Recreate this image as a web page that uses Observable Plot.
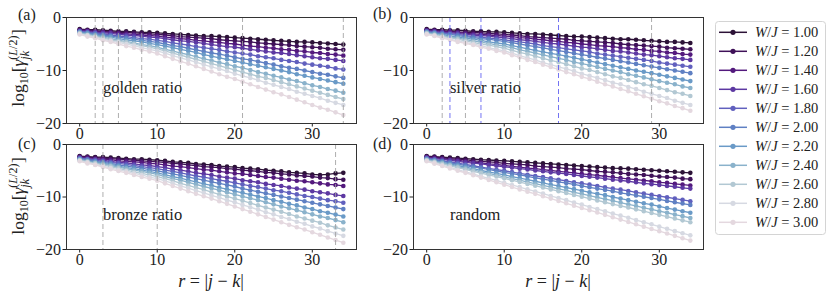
<!DOCTYPE html>
<html><head><meta charset="utf-8">
<script src="https://cdn.jsdelivr.net/npm/d3@7"></script>
<script src="https://cdn.jsdelivr.net/npm/@observablehq/plot@0.6"></script>
<style>
body{margin:0;background:#fff;}
#chart{position:relative;width:830px;height:295px;font-family:"Liberation Serif",serif;overflow:hidden;}
#chart svg{position:absolute;}
</style></head><body><div id="chart"></div>
<script>
const r = [0,1,2,3,4,5,6,7,8,9,10,11,12,13,14,15,16,17,18,19,20,21,22,23,24,25,26,27,28,29,30,31,32,33,34];
const W = [1.0,1.2,1.4,1.6,1.8,2.0,2.2,2.4,2.6,2.8,3.0];
const wLabels = ["1.00","1.20","1.40","1.60","1.80","2.00","2.20","2.40","2.60","2.80","3.00"];

const golden = [
 [-2.2,-2.3,-2.3,-2.4,-2.5,-2.6,-2.6,-2.7,-2.8,-2.8,-2.9,-3.0,-3.1,-3.2,-3.3,-3.4,-3.5,-3.5,-3.6,-3.7,-3.8,-3.9,-4.0,-4.1,-4.2,-4.3,-4.4,-4.5,-4.6,-4.6,-4.7,-4.8,-4.9,-5.0,-5.1],
 [-2.3,-2.4,-2.5,-2.6,-2.7,-2.8,-2.8,-2.9,-3.0,-3.1,-3.2,-3.3,-3.4,-3.6,-3.7,-3.8,-3.9,-4.0,-4.2,-4.3,-4.4,-4.5,-4.6,-4.8,-4.9,-5.0,-5.1,-5.2,-5.4,-5.5,-5.6,-5.7,-5.9,-6.0,-6.1],
 [-2.4,-2.5,-2.6,-2.7,-2.8,-3.0,-3.1,-3.2,-3.3,-3.4,-3.5,-3.7,-3.8,-4.0,-4.1,-4.3,-4.4,-4.6,-4.7,-4.9,-5.0,-5.2,-5.4,-5.5,-5.7,-5.8,-6.0,-6.1,-6.3,-6.4,-6.6,-6.7,-6.9,-7.0,-7.2],
 [-2.5,-2.6,-2.8,-2.9,-3.0,-3.2,-3.3,-3.4,-3.5,-3.7,-3.8,-4.0,-4.2,-4.4,-4.5,-4.7,-4.9,-5.1,-5.3,-5.5,-5.6,-5.8,-6.0,-6.2,-6.4,-6.6,-6.7,-6.9,-7.1,-7.3,-7.5,-7.7,-7.8,-8.0,-8.2],
 [-2.6,-2.8,-2.9,-3.1,-3.3,-3.5,-3.6,-3.8,-4.0,-4.1,-4.3,-4.5,-4.8,-5.0,-5.2,-5.5,-5.7,-5.9,-6.1,-6.4,-6.6,-6.8,-7.0,-7.3,-7.5,-7.7,-8.0,-8.2,-8.4,-8.7,-8.9,-9.1,-9.3,-9.6,-9.8],
 [-2.7,-2.9,-3.1,-3.3,-3.5,-3.7,-3.9,-4.1,-4.3,-4.5,-4.7,-5.0,-5.3,-5.5,-5.8,-6.1,-6.4,-6.7,-6.9,-7.2,-7.5,-7.8,-8.0,-8.3,-8.6,-8.9,-9.2,-9.5,-9.7,-10.0,-10.3,-10.6,-10.8,-11.1,-11.4],
 [-2.8,-3.0,-3.3,-3.5,-3.7,-4.0,-4.2,-4.4,-4.6,-4.9,-5.1,-5.4,-5.7,-6.0,-6.3,-6.6,-7.0,-7.3,-7.6,-7.9,-8.2,-8.5,-8.8,-9.1,-9.4,-9.7,-10.0,-10.3,-10.7,-11.0,-11.3,-11.6,-11.9,-12.2,-12.5],
 [-2.9,-3.2,-3.4,-3.7,-4.0,-4.3,-4.5,-4.8,-5.1,-5.3,-5.6,-6.0,-6.3,-6.7,-7.0,-7.4,-7.8,-8.1,-8.5,-8.8,-9.2,-9.5,-9.9,-10.3,-10.6,-11.0,-11.3,-11.7,-12.0,-12.4,-12.8,-13.1,-13.5,-13.8,-14.2],
 [-3.0,-3.3,-3.6,-3.9,-4.2,-4.5,-4.7,-5.0,-5.3,-5.6,-5.9,-6.3,-6.7,-7.1,-7.5,-7.9,-8.3,-8.7,-9.1,-9.5,-9.9,-10.3,-10.7,-11.1,-11.4,-11.8,-12.2,-12.6,-13.0,-13.4,-13.8,-14.2,-14.6,-15.0,-15.4],
 [-3.1,-3.4,-3.7,-4.1,-4.4,-4.7,-5.0,-5.3,-5.7,-6.0,-6.3,-6.7,-7.2,-7.6,-8.0,-8.4,-8.9,-9.3,-9.7,-10.1,-10.6,-11.0,-11.4,-11.8,-12.3,-12.7,-13.1,-13.5,-14.0,-14.4,-14.8,-15.2,-15.7,-16.1,-16.5],
 [-3.2,-3.6,-3.9,-4.3,-4.6,-5.0,-5.4,-5.7,-6.1,-6.4,-6.8,-7.3,-7.8,-8.3,-8.7,-9.2,-9.7,-10.2,-10.7,-11.2,-11.6,-12.1,-12.6,-13.1,-13.6,-14.1,-14.5,-15.0,-15.5,-16.0,-16.5,-17.0,-17.4,-17.9,-18.4]
];

const silver = [
 [-2.2,-2.3,-2.3,-2.4,-2.4,-2.5,-2.6,-2.6,-2.7,-2.7,-2.8,-2.9,-3.0,-3.1,-3.1,-3.2,-3.3,-3.4,-3.5,-3.6,-3.6,-3.7,-3.8,-3.9,-4.0,-4.1,-4.1,-4.2,-4.3,-4.4,-4.5,-4.6,-4.6,-4.7,-4.8],
 [-2.3,-2.4,-2.5,-2.6,-2.7,-2.8,-2.8,-2.9,-3.0,-3.1,-3.2,-3.3,-3.4,-3.6,-3.7,-3.8,-3.9,-4.0,-4.1,-4.3,-4.4,-4.5,-4.6,-4.7,-4.8,-5.0,-5.1,-5.2,-5.3,-5.4,-5.5,-5.7,-5.8,-5.9,-6.0],
 [-2.4,-2.5,-2.6,-2.7,-2.8,-3.0,-3.1,-3.2,-3.3,-3.4,-3.5,-3.6,-3.8,-3.9,-4.1,-4.2,-4.4,-4.5,-4.7,-4.8,-5.0,-5.1,-5.3,-5.4,-5.5,-5.7,-5.8,-6.0,-6.1,-6.3,-6.4,-6.6,-6.7,-6.9,-7.0],
 [-2.5,-2.6,-2.8,-2.9,-3.0,-3.2,-3.3,-3.4,-3.5,-3.7,-3.8,-4.0,-4.2,-4.3,-4.5,-4.7,-4.9,-5.0,-5.2,-5.4,-5.6,-5.7,-5.9,-6.1,-6.3,-6.4,-6.6,-6.8,-7.0,-7.1,-7.3,-7.5,-7.7,-7.8,-8.0],
 [-2.6,-2.8,-2.9,-3.1,-3.2,-3.4,-3.6,-3.7,-3.9,-4.0,-4.2,-4.4,-4.6,-4.8,-5.0,-5.3,-5.5,-5.7,-5.9,-6.1,-6.3,-6.5,-6.8,-7.0,-7.2,-7.4,-7.6,-7.8,-8.0,-8.2,-8.5,-8.7,-8.9,-9.1,-9.3],
 [-2.7,-2.9,-3.1,-3.2,-3.4,-3.6,-3.8,-4.0,-4.1,-4.3,-4.5,-4.75,-5.0,-5.25,-5.5,-5.75,-6.0,-6.25,-6.5,-6.75,-7.0,-7.25,-7.5,-7.75,-8.0,-8.25,-8.5,-8.75,-9.0,-9.25,-9.5,-9.75,-10.0,-10.25,-10.5],
 [-2.8,-3.0,-3.2,-3.5,-3.7,-3.9,-4.1,-4.3,-4.6,-4.8,-5.0,-5.3,-5.6,-5.9,-6.2,-6.5,-6.75,-7.0,-7.3,-7.6,-7.9,-8.2,-8.5,-8.8,-9.1,-9.4,-9.7,-10.0,-10.25,-10.5,-10.8,-11.1,-11.4,-11.7,-12.0],
 [-2.9,-3.15,-3.4,-3.65,-3.9,-4.15,-4.4,-4.65,-4.9,-5.15,-5.4,-5.7,-6.1,-6.4,-6.7,-7.05,-7.4,-7.7,-8.0,-8.4,-8.7,-9.0,-9.35,-9.7,-10.0,-10.3,-10.7,-11.0,-11.3,-11.65,-12.0,-12.3,-12.6,-13.0,-13.3],
 [-3.0,-3.3,-3.6,-3.8,-4.1,-4.4,-4.7,-5.0,-5.2,-5.5,-5.8,-6.2,-6.6,-6.9,-7.3,-7.7,-8.1,-8.4,-8.8,-9.2,-9.6,-9.9,-10.3,-10.7,-11.1,-11.4,-11.8,-12.2,-12.6,-12.9,-13.3,-13.7,-14.1,-14.4,-14.8],
 [-3.1,-3.4,-3.7,-4.1,-4.4,-4.7,-5.0,-5.3,-5.7,-6.0,-6.3,-6.7,-7.2,-7.6,-8.0,-8.5,-8.9,-9.3,-9.7,-10.1,-10.6,-11.0,-11.4,-11.8,-12.3,-12.6,-13.1,-13.5,-14.0,-14.4,-14.8,-15.2,-15.7,-16.1,-16.5],
 [-3.2,-3.5,-3.9,-4.2,-4.6,-4.9,-5.2,-5.6,-5.9,-6.3,-6.6,-7.1,-7.5,-8.0,-8.4,-8.9,-9.35,-9.8,-10.3,-10.7,-11.2,-11.6,-12.1,-12.6,-13.0,-13.5,-13.9,-14.4,-14.85,-15.3,-15.8,-16.2,-16.7,-17.1,-17.6]
];

const bronze = [
 [-2.2,-2.3,-2.4,-2.4,-2.5,-2.6,-2.7,-2.8,-2.8,-2.9,-3.0,-3.1,-3.3,-3.4,-3.5,-3.7,-3.8,-3.9,-4.1,-4.2,-4.3,-4.5,-4.6,-4.7,-4.9,-5.0,-5.1,-5.3,-5.4,-5.5,-5.7,-5.8,-5.7,-5.5,-5.4],
 [-2.3,-2.4,-2.5,-2.6,-2.7,-2.8,-2.9,-3.0,-3.1,-3.2,-3.3,-3.4,-3.6,-3.7,-3.9,-4.0,-4.2,-4.3,-4.4,-4.6,-4.7,-4.9,-5.0,-5.1,-5.3,-5.4,-5.6,-5.7,-5.9,-6.0,-6.1,-6.3,-6.4,-6.6,-6.7],
 [-2.4,-2.5,-2.7,-2.8,-2.9,-3.1,-3.2,-3.3,-3.4,-3.6,-3.7,-3.9,-4.1,-4.2,-4.4,-4.6,-4.8,-4.9,-5.1,-5.3,-5.5,-5.6,-5.8,-6.0,-6.2,-6.3,-6.5,-6.7,-6.9,-7.0,-7.2,-7.4,-7.6,-7.7,-7.9],
 [-2.5,-2.7,-2.8,-3.0,-3.2,-3.4,-3.5,-3.7,-3.9,-4.0,-4.2,-4.4,-4.7,-4.9,-5.1,-5.4,-5.6,-5.8,-6.1,-6.3,-6.5,-6.8,-7.0,-7.2,-7.5,-7.7,-7.9,-8.2,-8.4,-8.6,-8.9,-9.1,-9.3,-9.6,-9.8],
 [-2.6,-2.8,-3.0,-3.2,-3.4,-3.6,-3.8,-4.0,-4.2,-4.4,-4.6,-4.9,-5.1,-5.4,-5.7,-6.0,-6.2,-6.5,-6.8,-7.0,-7.3,-7.6,-7.9,-8.1,-8.4,-8.7,-8.9,-9.2,-9.5,-9.8,-10.0,-10.3,-10.6,-10.8,-11.1],
 [-2.7,-2.9,-3.2,-3.4,-3.6,-3.9,-4.1,-4.3,-4.5,-4.8,-5.0,-5.3,-5.6,-5.9,-6.2,-6.5,-6.8,-7.1,-7.4,-7.7,-8.0,-8.4,-8.7,-9.0,-9.3,-9.6,-9.9,-10.2,-10.5,-10.8,-11.1,-11.4,-11.7,-12.0,-12.3],
 [-2.8,-3.1,-3.3,-3.6,-3.8,-4.1,-4.4,-4.6,-4.9,-5.1,-5.4,-5.75,-6.1,-6.4,-6.8,-7.1,-7.5,-7.8,-8.2,-8.5,-8.9,-9.2,-9.55,-9.9,-10.2,-10.6,-10.9,-11.3,-11.6,-12.0,-12.3,-12.7,-13.0,-13.35,-13.7],
 [-2.9,-3.2,-3.5,-3.7,-4.0,-4.3,-4.6,-4.9,-5.1,-5.4,-5.7,-6.1,-6.5,-6.8,-7.2,-7.6,-8.0,-8.35,-8.7,-9.1,-9.5,-9.9,-10.25,-10.6,-11.0,-11.4,-11.8,-12.15,-12.5,-12.9,-13.3,-13.7,-14.0,-14.4,-14.8],
 [-3.0,-3.3,-3.6,-3.9,-4.2,-4.55,-4.9,-5.2,-5.5,-5.8,-6.1,-6.5,-6.9,-7.4,-7.8,-8.2,-8.6,-9.05,-9.5,-9.9,-10.3,-10.7,-11.15,-11.6,-12.0,-12.4,-12.8,-13.25,-13.7,-14.1,-14.5,-14.9,-15.4,-15.8,-16.2],
 [-3.1,-3.4,-3.8,-4.1,-4.5,-4.8,-5.1,-5.5,-5.8,-6.2,-6.5,-6.95,-7.4,-7.9,-8.3,-8.8,-9.2,-9.7,-10.1,-10.6,-11.0,-11.5,-11.95,-12.4,-12.9,-13.3,-13.8,-14.2,-14.7,-15.1,-15.6,-16.0,-16.5,-16.95,-17.4],
 [-3.2,-3.6,-3.9,-4.3,-4.7,-5.05,-5.4,-5.8,-6.2,-6.5,-6.9,-7.4,-7.9,-8.4,-8.9,-9.4,-9.85,-10.3,-10.8,-11.3,-11.8,-12.3,-12.8,-13.3,-13.8,-14.3,-14.8,-15.3,-15.75,-16.2,-16.7,-17.2,-17.7,-18.2,-18.7]
];

const randomCase = [
 [-2.2,-2.3,-2.4,-2.5,-2.6,-2.7,-2.8,-2.9,-2.95,-3.05,-3.1,-3.2,-3.3,-3.4,-3.5,-3.6,-3.7,-3.8,-3.9,-4.0,-4.1,-4.2,-4.3,-4.4,-4.5,-4.55,-4.6,-4.7,-4.8,-4.9,-5.0,-5.1,-5.2,-5.3,-5.4],
 [-2.3,-2.4,-2.55,-2.7,-2.8,-2.9,-3.1,-3.2,-3.3,-3.4,-3.6,-3.7,-3.8,-3.9,-4.1,-4.2,-4.3,-4.4,-4.6,-4.7,-4.8,-4.95,-5.1,-5.2,-5.3,-5.45,-5.6,-5.7,-5.8,-5.95,-6.1,-6.2,-6.3,-6.5,-6.6],
 [-2.4,-2.55,-2.7,-2.9,-3.0,-3.2,-3.35,-3.5,-3.7,-3.8,-4.0,-4.15,-4.3,-4.5,-4.6,-4.8,-4.95,-5.1,-5.25,-5.4,-5.6,-5.75,-5.9,-6.05,-6.2,-6.4,-6.55,-6.7,-6.85,-7.0,-7.2,-7.3,-7.5,-7.65,-7.8],
 [-2.5,-2.7,-2.85,-3.0,-3.2,-3.4,-3.55,-3.7,-3.9,-4.05,-4.25,-4.4,-4.6,-4.75,-4.95,-5.1,-5.3,-5.45,-5.6,-5.8,-6.0,-6.15,-6.3,-6.5,-6.7,-6.85,-7.0,-7.2,-7.4,-7.55,-7.7,-7.9,-8.05,-8.25,-8.4],
 [-2.6,-2.85,-3.1,-3.3,-3.55,-3.8,-4.05,-4.3,-4.55,-4.8,-5.0,-5.25,-5.5,-5.75,-6.0,-6.2,-6.45,-6.7,-6.95,-7.2,-7.4,-7.65,-7.9,-8.15,-8.4,-8.6,-8.85,-9.1,-9.35,-9.6,-9.85,-10.05,-10.3,-10.55,-10.8],
 [-2.7,-2.95,-3.2,-3.5,-3.75,-4.0,-4.25,-4.5,-4.75,-5.05,-5.3,-5.55,-5.8,-6.05,-6.35,-6.6,-6.85,-7.1,-7.35,-7.6,-7.9,-8.15,-8.4,-8.65,-8.9,-9.2,-9.45,-9.7,-9.95,-10.2,-10.45,-10.75,-11.0,-11.25,-11.5],
 [-2.8,-3.1,-3.4,-3.7,-4.0,-4.3,-4.6,-4.95,-5.2,-5.5,-5.8,-6.1,-6.4,-6.7,-7.0,-7.3,-7.65,-7.9,-8.2,-8.5,-8.8,-9.1,-9.4,-9.65,-10.0,-10.3,-10.6,-10.9,-11.2,-11.45,-11.8,-12.1,-12.4,-12.7,-13.0],
 [-2.9,-3.2,-3.55,-3.9,-4.2,-4.55,-4.85,-5.2,-5.5,-5.85,-6.15,-6.5,-6.8,-7.15,-7.45,-7.8,-8.1,-8.45,-8.75,-9.1,-9.4,-9.75,-10.05,-10.4,-10.7,-11.05,-11.4,-11.7,-12.05,-12.35,-12.7,-13.0,-13.35,-13.65,-14.0],
 [-3.0,-3.35,-3.7,-4.05,-4.4,-4.75,-5.1,-5.45,-5.8,-6.1,-6.45,-6.8,-7.15,-7.5,-7.85,-8.2,-8.55,-8.9,-9.25,-9.6,-9.95,-10.3,-10.65,-11.0,-11.35,-11.7,-12.0,-12.35,-12.7,-13.05,-13.4,-13.75,-14.1,-14.45,-14.8],
 [-3.1,-3.5,-3.95,-4.35,-4.8,-5.2,-5.6,-6.05,-6.45,-6.85,-7.3,-7.7,-8.1,-8.55,-8.95,-9.35,-9.8,-10.2,-10.6,-11.05,-11.45,-11.9,-12.3,-12.7,-13.15,-13.55,-13.95,-14.4,-14.8,-15.2,-15.65,-16.05,-16.5,-16.9,-17.3],
 [-3.2,-3.65,-4.1,-4.55,-5.0,-5.4,-5.85,-6.3,-6.75,-7.2,-7.65,-8.1,-8.55,-9.0,-9.4,-9.85,-10.3,-10.75,-11.2,-11.65,-12.1,-12.5,-12.95,-13.4,-13.85,-14.3,-14.75,-15.2,-15.65,-16.1,-16.5,-16.95,-17.4,-17.85,-18.3]
];

const goldenMarks = [2,3,5,8,13,21,34];
const silverGreyMarks = [2,5,12,29];
const silverBlueMarks = [3,7,17];
const bronzeMarks = [3,10,33];
const panelTexts = ["golden ratio","silver ratio","bronze ratio","random"];
const panelLetters = ["(a)","(b)","(c)","(d)"];
const xTicks = [0,10,20,30];
const yTicks = [-20,-10,0];

const colors = ["#2c1237","#3f1158","#53197d","#5d38a2","#6160be","#5f80c3","#6a9ac7","#8ab2cb","#b2c8d3","#d6d9e2","#e4d8df"];
const FONT = "Liberation Serif, serif";

const chart = d3.select("#chart");

function tidy(series){
  return series.flatMap((vals,i)=>vals.map((v,j)=>({r:r[j], v, i})));
}

function panel(cfg){
  const rows = tidy(cfg.data);
  const marks = [];
  W.forEach((w,i)=>{
    const s = rows.filter(d=>d.i===i);
    marks.push(Plot.line(s,{x:"r",y:"v",stroke:colors[i],strokeWidth:1.3}));
    marks.push(Plot.dot(s,{x:"r",y:"v",fill:colors[i],r:2.3}));
  });
  if (cfg.grey) marks.push(Plot.ruleX(cfg.grey,{stroke:"#a0a0a0",strokeWidth:1,strokeDasharray:"5,3",strokeOpacity:0.85}));
  if (cfg.blue) marks.push(Plot.ruleX(cfg.blue,{stroke:"#5050f0",strokeWidth:1,strokeDasharray:"5,3",strokeOpacity:0.8}));
  marks.push(Plot.text([cfg.text],{x:3,y:-13.3,text:d=>d,textAnchor:"start",fontSize:16.5,fill:"#222"}));
  marks.push(Plot.frame({stroke:"#333",strokeWidth:1}));
  const el = Plot.plot({
    width: cfg.width, height: cfg.height,
    marginLeft: cfg.ml, marginRight: cfg.mr, marginTop: cfg.mt, marginBottom: cfg.mb,
    style: {fontFamily: FONT, fontSize: "16px", color:"#222", background:"transparent", overflow:"visible"},
    x: {domain:[-1.7,35.7], ticks:xTicks, tickSize:3.5, tickPadding:1, label:null, tickFormat:d=>String(d)},
    y: {domain:[-20,0], ticks:yTicks, tickSize:3.5, tickPadding:2, label:null, tickFormat:d=> d<0 ? "\u2212"+(-d) : String(d)},
    marks
  });
  el.style.left = cfg.left+"px";
  el.style.top = cfg.top+"px";
  chart.node().appendChild(el);
}

panel({data:golden, grey:goldenMarks, text:panelTexts[0], left:0, top:0, width:360, height:145, ml:66, mr:4, mt:17, mb:22});
panel({data:silver, grey:silverGreyMarks, blue:silverBlueMarks, text:panelTexts[1], left:360, top:0, width:345, height:145, ml:53, mr:2, mt:17, mb:22});
panel({data:bronze, grey:bronzeMarks, text:panelTexts[2], left:0, top:127, width:360, height:145, ml:66, mr:4, mt:17, mb:23});
panel({data:randomCase, text:panelTexts[3], left:360, top:127, width:345, height:145, ml:53, mr:2, mt:17, mb:23});

// overlay: labels and legend
const ov = chart.append("svg").attr("width",830).attr("height",295).style("left","0px").style("top","0px")
  .style("pointer-events","none").attr("font-family",FONT).attr("fill","#222");

const letterPos = [[18,20],[373,19],[18,149],[373,149]];
panelLetters.forEach((t,k)=>ov.append("text").attr("x",letterPos[k][0]).attr("y",letterPos[k][1]).attr("font-size",16).text(t));

function yLabel(x,y){
  const t = ov.append("text").attr("transform",`translate(${x},${y}) rotate(-90)`).attr("text-anchor","middle").attr("font-size",17.5);
  t.append("tspan").text("log");
  t.append("tspan").attr("font-size",12).attr("dy",4).text("10");
  t.append("tspan").attr("dy",-4).text("[");
  t.append("tspan").attr("font-style","italic").text("\u03b3");
  const sup = t.append("tspan").attr("font-size",12).attr("dy",-7.5);
  sup.append("tspan").text("(");
  sup.append("tspan").attr("font-style","italic").text("L");
  sup.append("tspan").text("/2)");
  const sub = t.append("tspan").attr("font-size",12).attr("font-style","italic").attr("dy",12).text("jk");
  const close = t.append("tspan").attr("dy",-4.5).text("]");
  const supW = sup.node().getComputedTextLength();
  const subW = sub.node().getComputedTextLength();
  sub.attr("dx", -supW);
  close.attr("dx", Math.max(0, supW - subW) + 0.5);
}
yLabel(24,68);
yLabel(24,196);

function xLabel(cx,y){
  const t = ov.append("text").attr("x",cx).attr("y",y).attr("text-anchor","middle").attr("font-size",18);
  t.append("tspan").attr("font-style","italic").text("r");
  t.append("tspan").text(" = |");
  t.append("tspan").attr("font-style","italic").text("j");
  t.append("tspan").text(" \u2212 ");
  t.append("tspan").attr("font-style","italic").text("k");
  t.append("tspan").text("|");
}
xLabel(211,287);
xLabel(558,287);

// legend
const lg = ov.append("g");
lg.append("rect").attr("x",715.5).attr("y",21.5).attr("width",110).attr("height",213).attr("rx",3)
  .attr("fill","#fff").attr("stroke","#d4d4d4").attr("stroke-width",1);
W.forEach((w,i)=>{
  const y = 32.3 + 19*i;
  lg.append("line").attr("x1",719).attr("x2",747).attr("y1",y).attr("y2",y).attr("stroke",colors[i]).attr("stroke-width",1.5);
  lg.append("circle").attr("cx",733).attr("cy",y).attr("r",2.6).attr("fill",colors[i]);
  const t = lg.append("text").attr("x",755).attr("y",y+4.8).attr("font-size",14.5);
  t.append("tspan").attr("font-style","italic").text("W");
  t.append("tspan").text("/");
  t.append("tspan").attr("font-style","italic").text("J");
  t.append("tspan").text(" = " + wLabels[i]);
});
</script></body></html>
